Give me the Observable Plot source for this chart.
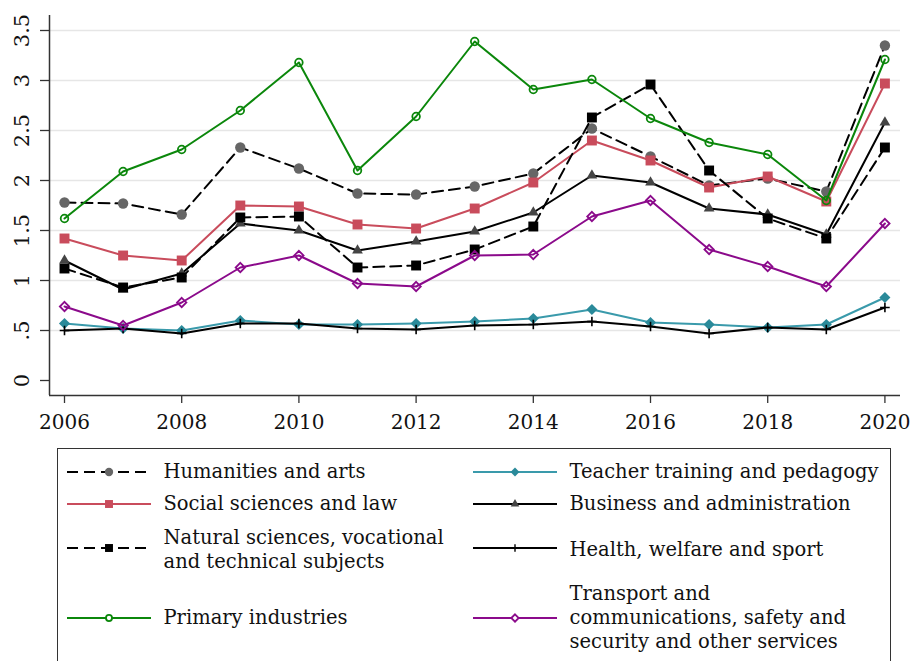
<!DOCTYPE html>
<html>
<head>
<meta charset="utf-8">
<script src="https://cdn.jsdelivr.net/npm/d3@7"></script>
<script src="https://cdn.jsdelivr.net/npm/@observablehq/plot@0.6"></script>
<style>
  html, body { margin: 0; padding: 0; background: #fff; }
  #wrap { position: relative; width: 910px; height: 661px; overflow: hidden; background: #fff; font-family: "DejaVu Serif", serif; color: #111; }
  #legend { position: absolute; left: 57px; top: 448px; width: 834px; height: 230px; border: 1.5px solid #333; box-sizing: border-box; }
  .ltext { position: absolute; font-size: 19.5px; line-height: 24px; white-space: nowrap; }
  .lkey { position: absolute; }
</style>
</head>
<body>
<div id="wrap"><div id="chart"></div><div id="legend"></div></div>
<script>
// ---- data ----
const years = [2006, 2007, 2008, 2009, 2010, 2011, 2012, 2013, 2014, 2015, 2016, 2017, 2018, 2019, 2020];
const humanities = [1.78, 1.77, 1.66, 2.33, 2.12, 1.87, 1.86, 1.94, 2.07, 2.52, 2.24, 1.95, 2.02, 1.89, 3.35];
const teacher    = [0.57, 0.52, 0.50, 0.60, 0.56, 0.56, 0.57, 0.59, 0.62, 0.71, 0.58, 0.56, 0.53, 0.56, 0.83];
const social     = [1.42, 1.25, 1.20, 1.75, 1.74, 1.56, 1.52, 1.72, 1.98, 2.40, 2.20, 1.93, 2.04, 1.79, 2.97];
const business   = [1.20, 0.91, 1.07, 1.57, 1.50, 1.30, 1.39, 1.49, 1.68, 2.05, 1.98, 1.72, 1.66, 1.46, 2.58];
const natural    = [1.12, 0.93, 1.03, 1.63, 1.64, 1.13, 1.15, 1.31, 1.54, 2.63, 2.96, 2.10, 1.62, 1.42, 2.33];
const health     = [0.50, 0.52, 0.47, 0.57, 0.57, 0.52, 0.51, 0.55, 0.56, 0.59, 0.54, 0.47, 0.53, 0.51, 0.73];
const primary    = [1.62, 2.09, 2.31, 2.70, 3.18, 2.10, 2.64, 3.39, 2.91, 3.01, 2.62, 2.38, 2.26, 1.80, 3.21];
const transport  = [0.74, 0.55, 0.78, 1.13, 1.25, 0.97, 0.94, 1.25, 1.26, 1.64, 1.80, 1.31, 1.14, 0.94, 1.57];

const seriesNames = [
  "Humanities and arts",
  "Teacher training and pedagogy",
  "Social sciences and law",
  "Business and administration",
  "Natural sciences, vocational and technical subjects",
  "Health, welfare and sport",
  "Primary industries",
  "Transport and communications, safety and security and other services"
];
const seriesValues = [humanities, teacher, social, business, natural, health, primary, transport];

const xTicks = [2006, 2008, 2010, 2012, 2014, 2016, 2018, 2020];
const yTicks = [0, 0.5, 1, 1.5, 2, 2.5, 3, 3.5];
const yTickLabels = ["0", ".5", "1", "1.5", "2", "2.5", "3", "3.5"];

// ---- styles ----
const styles = [
  {line: "#000", dash: "11,6", symbol: "circle",   r: 5.2, fill: "#666", stroke: "none", sw: 0},
  {line: "#3a9aab", dash: null, symbol: "diamond2", r: 5.0, fill: "#2a8a9a", stroke: "none", sw: 0},
  {line: "#c94c5c", dash: null, symbol: "square",  r: 5.6, fill: "#c94c5c", stroke: "none", sw: 0},
  {line: "#000", dash: null, symbol: "triangle",    r: 4.0, fill: "#444", stroke: "none", sw: 0},
  {line: "#000", dash: "11,6", symbol: "square",    r: 5.6, fill: "#000", stroke: "none", sw: 0},
  {line: "#000", dash: null, symbol: "plus",        r: 3.2, fill: "none", stroke: "#000", sw: 1.6},
  {line: "#0b870b", dash: null, symbol: "circle",   r: 3.8, fill: "none", stroke: "#0b870b", sw: 1.8},
  {line: "#8b0a8b", dash: null, symbol: "diamond2", r: 4.2, fill: "none", stroke: "#8b0a8b", sw: 1.8}
];

const rows = [];
seriesNames.forEach((name, s) => {
  years.forEach((yr, i) => rows.push({series: s, name, year: yr, value: seriesValues[s][i]}));
});

const xDomain = [2005.744, 2020.266];
const yDomain = [-0.15, 3.65];

const marks = [
  Plot.ruleY(yTicks.filter(d => d > 0), {stroke: "#e6e6e6", strokeWidth: 1.6}),
  Plot.axisX({ticks: xTicks, tickSize: 8, tickPadding: 11, tickFormat: d => String(d), label: null, stroke: "#333", strokeWidth: 1.3, fontSize: 20}),
  Plot.axisY({ticks: yTicks, tickSize: 9, tickFormat: () => "", label: null, stroke: "#333", strokeWidth: 1.3}),
  Plot.text(yTicks, {y: d => d, text: (d, i) => yTickLabels[i], frameAnchor: "left", textAnchor: "middle", lineAnchor: "middle", dx: -27, rotate: -90, fontSize: 21, fill: "#111"}),
  Plot.ruleX([xDomain[0]], {stroke: "#333", strokeWidth: 1.5}),
  Plot.ruleY([yDomain[0]], {stroke: "#333", strokeWidth: 1.5})
];

styles.forEach((st, s) => {
  const d = rows.filter(r => r.series === s);
  marks.push(Plot.line(d, {x: "year", y: "value", stroke: st.line, strokeWidth: 2, strokeDasharray: st.dash || undefined}));
  marks.push(Plot.dot(d, {x: "year", y: "value", symbol: st.symbol, r: st.r, fill: st.fill, stroke: st.stroke, strokeWidth: st.sw}));
});

const chart = Plot.plot({
  width: 910,
  height: 440,
  marginLeft: 49,
  marginRight: 10,
  marginTop: 15,
  marginBottom: 45,
  x: {domain: xDomain},
  y: {domain: yDomain},
  style: {fontFamily: "DejaVu Serif, serif", fontSize: "20px", color: "#111", background: "white", overflow: "visible"},
  marks
});
document.getElementById("chart").appendChild(chart);

// ---- legend ----
const legendLayout = [
  {s: 0, col: 0, keyY: 472, textY: 472, lines: ["Humanities and arts"]},
  {s: 1, col: 1, keyY: 472, textY: 472, lines: ["Teacher training and pedagogy"]},
  {s: 2, col: 0, keyY: 504, textY: 504, lines: ["Social sciences and law"]},
  {s: 3, col: 1, keyY: 504, textY: 504, lines: ["Business and administration"]},
  {s: 4, col: 0, keyY: 548, textY: 550, lines: ["Natural sciences, vocational", "and technical subjects"]},
  {s: 5, col: 1, keyY: 548, textY: 550, lines: ["Health, welfare and sport"]},
  {s: 6, col: 0, keyY: 618, textY: 618, lines: ["Primary industries"]},
  {s: 7, col: 1, keyY: 618, textY: 618, lines: ["Transport and", "communications, safety and", "security and other services"]}
];
const legend = document.getElementById("legend");
const L0 = 57, T0 = 448;
const symMap = {circle: d3.symbolCircle, square: d3.symbolSquare, triangle: d3.symbolTriangle, diamond2: d3.symbolDiamond2, plus: d3.symbolPlus};
legendLayout.forEach(e => {
  const st = styles[e.s];
  const keyX = e.col === 0 ? 67 : 473;
  const textX = e.col === 0 ? 164 : 570;
  const svg = d3.create("svg").attr("width", 86).attr("height", 20).attr("class", "lkey")
    .style("left", (keyX - L0 - 1.5) + "px").style("top", (e.keyY - T0 - 10 - 1.5) + "px");
  svg.append("line").attr("x1", 0).attr("x2", 84).attr("y1", 10).attr("y2", 10)
    .attr("stroke", st.line).attr("stroke-width", 2).attr("stroke-dasharray", st.dash);
  const rr = st.r * 0.8;
  svg.append("path").attr("transform", "translate(42,10)")
    .attr("d", d3.symbol(symMap[st.symbol], rr * rr * Math.PI)())
    .attr("fill", st.fill === "none" ? (st.symbol === "plus" ? "none" : "white") : st.fill)
    .attr("stroke", st.stroke)
    .attr("stroke-width", st.symbol === "plus" ? 1.4 : st.sw);
  legend.appendChild(svg.node());
  const div = document.createElement("div");
  div.className = "ltext";
  div.style.left = (textX - L0 - 1.5) + "px";
  div.style.top = (e.textY - T0 - 1.5 - e.lines.length * 12) + "px";
  div.innerHTML = e.lines.join("<br>");
  legend.appendChild(div);
});
</script>
</body>
</html>
